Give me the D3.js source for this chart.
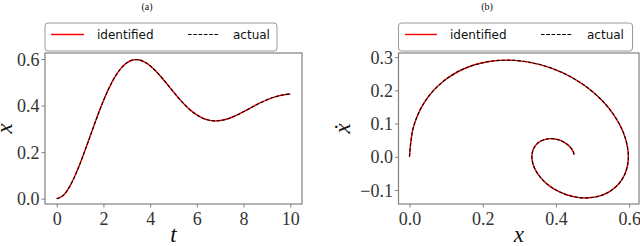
<!DOCTYPE html>
<html>
<head>
<meta charset="utf-8">
<script src="https://cdn.jsdelivr.net/npm/d3@7"></script>
<style>
  html, body { margin: 0; padding: 0; background: #fff; }
  svg { display: block; }
</style>
</head>
<body>
<svg id="chart" width="640" height="246"></svg>
<script>
// ---- data ----
const tValues = [0, 0.25, 0.5, 0.75, 1, 1.25, 1.5, 1.75, 2, 2.25, 2.5, 2.75, 3, 3.25, 3.5, 3.75, 4, 4.25, 4.5, 4.75, 5,
  5.25, 5.5, 5.75, 6, 6.25, 6.5, 6.75, 7, 7.25, 7.5, 7.75, 8, 8.25, 8.5, 8.75, 9, 9.25, 9.5, 9.75, 10];
const xValues = [0, 0.0113, 0.0429, 0.0908, 0.1506, 0.2176, 0.2876, 0.3565, 0.4207, 0.4772, 0.5240, 0.5597, 0.5835,
  0.5957, 0.5968, 0.5880, 0.5710, 0.5476, 0.5198, 0.4894, 0.4586, 0.4289, 0.4018, 0.3785, 0.3598, 0.3461, 0.3377,
  0.3343, 0.3357, 0.3411, 0.3498, 0.3610, 0.3738, 0.3874, 0.4009, 0.4135, 0.4249, 0.4344, 0.4418, 0.4468, 0.4496];
const xdotValues = [0, 0.0914, 0.1675, 0.2259, 0.2658, 0.2868, 0.2902, 0.2776, 0.2517, 0.2153, 0.1714, 0.1235, 0.0743,
  0.0262, -0.0163, -0.0527, -0.0822, -0.1040, -0.1176, -0.1236, -0.1222, -0.1144, -0.1014, -0.0845, -0.0650, -0.0442,
  -0.0234, -0.0037, 0.0139, 0.0288, 0.0405, 0.0487, 0.0533, 0.0546, 0.0528, 0.0484, 0.0419, 0.0339, 0.0250, 0.0158, 0.0068];

const tTicks = [0, 2, 4, 6, 8, 10];
const xTicksA = [0.0, 0.2, 0.4, 0.6];
const xTicksB = [0.0, 0.2, 0.4, 0.6];
const xdotTicks = [-0.1, 0.0, 0.1, 0.2, 0.3];
const seriesNames = ["identified", "actual"];
const panelTitles = ["(a)", "(b)"];

// ---- drawing ----
const svg = d3.select("#chart");
const SERIF = '"Liberation Serif", serif';
const SANS = '"DejaVu Sans", sans-serif';
const spineColor = "#808080";
const fmt = d => d3.format(".1f")(d).replace("-", "\u2212");

const pts = tValues.map((t, i) => ({ t: t, x: xValues[i], xd: xdotValues[i] }));

function serifText(sel, size, italic) {
  return sel.style("font-family", SERIF).style("font-size", size + "px")
    .style("font-style", italic ? "italic" : "normal");
}

function panel(cfg) {
  const g = svg.append("g");
  const xs = d3.scaleLinear().domain(cfg.xDomain).range([cfg.left, cfg.right]);
  const ys = d3.scaleLinear().domain(cfg.yDomain).range([cfg.bottom, cfg.top]);

  // curves
  const line = d3.line().x(d => xs(cfg.fx(d))).y(d => ys(cfg.fy(d))).curve(d3.curveCatmullRom);
  g.append("path").datum(pts).attr("d", line).attr("fill", "none")
    .attr("stroke", "#ff0000").attr("stroke-width", 1.4);
  g.append("path").datum(pts).attr("d", line).attr("fill", "none")
    .attr("stroke", "#000").attr("stroke-width", 1.1).attr("stroke-dasharray", "3.6,1.7");

  // axes
  const xAxis = d3.axisBottom(xs).tickValues(cfg.xTicks).tickSize(3.5).tickPadding(3).tickFormat(cfg.xFmt);
  const yAxis = d3.axisLeft(ys).tickValues(cfg.yTicks).tickSize(3.5).tickPadding(2).tickFormat(fmt);
  const gx = g.append("g").attr("transform", `translate(0,${cfg.bottom})`).call(xAxis);
  const gy = g.append("g").attr("transform", `translate(${cfg.left},0)`).call(yAxis);
  [gx, gy].forEach(a => {
    a.attr("font-family", null).attr("font-size", null);
    a.select(".domain").remove();
    a.selectAll(".tick line").attr("stroke", spineColor).attr("stroke-width", 1);
    serifText(a.selectAll(".tick text"), 18, false).attr("fill", "#333");
  });
  gx.selectAll(".tick text").attr("dy", "0.78em");
  gy.selectAll(".tick text").attr("dy", "0.34em");

  // box
  g.append("rect").attr("x", cfg.left).attr("y", cfg.top)
    .attr("width", cfg.right - cfg.left).attr("height", cfg.bottom - cfg.top)
    .attr("fill", "none").attr("stroke", spineColor).attr("stroke-width", 1.2);

  // axis labels
  serifText(g.append("text"), 23, true).attr("x", (cfg.left + cfg.right) / 2).attr("y", 241.5)
    .attr("text-anchor", "middle").attr("fill", "#111").text(cfg.xLabel);
  serifText(g.append("text"), 23, true)
    .attr("transform", `translate(${cfg.yLabelX},${(cfg.top + cfg.bottom) / 2}) rotate(-90)`)
    .attr("text-anchor", "middle").attr("fill", "#111").text(cfg.yLabel);

  // title
  serifText(g.append("text"), 10, false).attr("x", cfg.titleX).attr("y", 10).attr("text-anchor", "middle")
    .attr("fill", "#111").text(cfg.title);

  // legend
  const L = cfg.legend;
  g.append("rect").attr("x", L.x).attr("y", 23).attr("width", L.w).attr("height", 28)
    .attr("rx", 3).attr("fill", "#fff").attr("stroke", "#999").attr("stroke-width", 1);
  g.append("line").attr("x1", L.r1).attr("x2", L.r2).attr("y1", 34.5).attr("y2", 34.5)
    .attr("stroke", "#ff0000").attr("stroke-width", 1.4);
  g.append("text").attr("x", L.t1).attr("y", 38.8).style("font-family", SANS).style("font-size", "12px")
    .attr("fill", "#111").text(seriesNames[0]);
  g.append("line").attr("x1", L.d1).attr("x2", L.d2).attr("y1", 34.5).attr("y2", 34.5)
    .attr("stroke", "#000").attr("stroke-width", 1.1).attr("stroke-dasharray", "3.6,1.7");
  g.append("text").attr("x", L.t2).attr("y", 38.8).style("font-family", SANS).style("font-size", "12px")
    .attr("fill", "#111").text(seriesNames[1]);
}

panel({
  left: 45, right: 302, top: 53, bottom: 204,
  xDomain: [-0.5, 10.5], yDomain: [-0.0228, 0.6259],
  fx: d => d.t, fy: d => d.x,
  xTicks: tTicks, yTicks: xTicksA, xFmt: d3.format("d"),
  xLabel: "t", yLabel: "x", yLabelX: 12,
  title: panelTitles[0], titleX: 147,
  legend: { x: 45, w: 232, r1: 51, r2: 84, t1: 97, d1: 188, d2: 219, t2: 233 }
});

panel({
  left: 398.5, right: 639, top: 53, bottom: 204,
  xDomain: [-0.0300, 0.6267], yDomain: [-0.1422, 0.3125],
  fx: d => d.x, fy: d => d.xd,
  xTicks: xTicksB, yTicks: xdotTicks, xFmt: fmt,
  xLabel: "x", yLabel: "\u1E8B", yLabelX: 350,
  title: panelTitles[1], titleX: 487,
  legend: { x: 398.5, w: 234, r1: 405, r2: 437, t1: 450, d1: 541, d2: 572, t2: 587 }
});
</script>
</body>
</html>
